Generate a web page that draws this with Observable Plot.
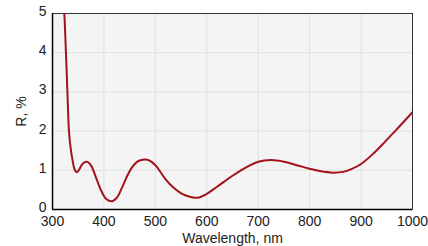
<!DOCTYPE html>
<html>
<head>
<meta charset="utf-8">
<script src="https://cdn.jsdelivr.net/npm/d3@7"></script>
<script src="https://cdn.jsdelivr.net/npm/@observablehq/plot@0.6"></script>
<style>
  html, body { margin: 0; padding: 0; background: #fff; }
  #chart svg { display: block; }
</style>
</head>
<body>
<div id="chart"></div>
<script>
const wavelength = [318, 323, 326, 329, 332, 335, 339.5, 343, 347, 352, 357, 362, 369, 376, 385, 395, 405, 416, 425, 435, 445, 455, 465, 475, 484.5, 492, 502, 520, 535, 549.5, 565, 582, 600, 620, 650, 680, 700, 725, 750, 775, 800, 820, 845, 865, 881, 900, 925, 946, 967.5, 1000];
const reflectance = [6.0, 5.0, 4.05, 3.0, 2.0, 1.6, 1.22, 1.02, 0.95, 1.02, 1.14, 1.2, 1.21, 1.1, 0.8, 0.47, 0.26, 0.21, 0.3, 0.55, 0.85, 1.08, 1.22, 1.27, 1.27, 1.22, 1.1, 0.77, 0.56, 0.42, 0.33, 0.3, 0.4, 0.58, 0.86, 1.1, 1.22, 1.26, 1.22, 1.13, 1.04, 0.98, 0.94, 0.96, 1.03, 1.16, 1.44, 1.72, 2.02, 2.48];
const xTicks = [300, 400, 500, 600, 700, 800, 900, 1000];
const yTicks = [0, 1, 2, 3, 4, 5];

const data = wavelength.map((w, i) => ({w, r: reflectance[i]}));

const chart = Plot.plot({
  width: 428,
  height: 246,
  marginLeft: 52,
  marginRight: 16,
  marginTop: 13,
  marginBottom: 37,
  style: {fontFamily: "'Liberation Sans', Arial, sans-serif", fontSize: "14px", color: "#222", background: "#fff"},
  x: {domain: [300, 1000]},
  y: {domain: [0, 5]},
  marks: [
    Plot.frame({fill: "#f4f4f4", stroke: null}),
    Plot.gridX(xTicks, {stroke: "#e0e0e0", strokeOpacity: 1, strokeWidth: 1}),
    Plot.gridY(yTicks, {stroke: "#e0e0e0", strokeOpacity: 1, strokeWidth: 1}),
    Plot.frame({stroke: "#333", strokeWidth: 1}),
    Plot.ruleX([300], {stroke: "#000", strokeWidth: 1.5}),
    Plot.ruleY([0], {stroke: "#000", strokeWidth: 1.5}),
    Plot.line(data, {x: "w", y: "r", stroke: "#a3121b", strokeWidth: 2, curve: "catmull-rom", clip: true}),
    Plot.axisX({ticks: xTicks, tickFormat: d => String(d), tickSize: 0, tickPadding: 7, fontSize: 14, label: "Wavelength, nm", labelAnchor: "center", labelArrow: "none", labelOffset: 33}),
    Plot.axisY({ticks: yTicks, tickFormat: d => String(d), tickSize: 0, tickPadding: 6, dy: -2, fontSize: 14, label: "R, %", labelAnchor: "center", labelArrow: "none", labelOffset: 36})
  ]
});
document.getElementById("chart").appendChild(chart);
</script>
</body>
</html>
